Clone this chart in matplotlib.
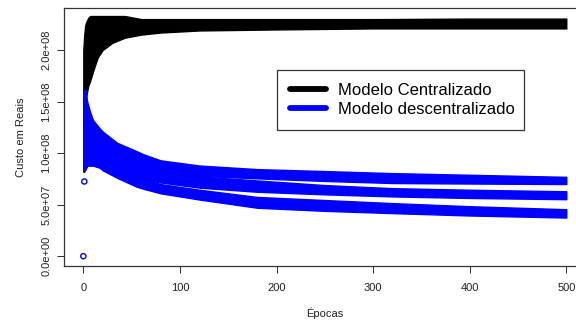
import matplotlib

matplotlib.use("Agg")
import matplotlib.pyplot as plt
from matplotlib.lines import Line2D
from matplotlib.ticker import FuncFormatter

plt.rcParams["font.family"] = ["Liberation Sans", "DejaVu Sans"]

# envelope of the point clouds (cost in reais)
black_epochs = [0, 1, 2, 3, 5, 7, 9, 12, 15, 20, 30, 43, 60, 80, 120, 200, 300, 400, 500]
black_upper = [2.00e8, 2.15e8, 2.24e8, 2.27e8, 2.31e8, 2.33e8, 2.33e8, 2.33e8, 2.33e8,
               2.33e8, 2.33e8, 2.33e8, 2.30e8, 2.30e8, 2.30e8, 2.30e8, 2.30e8, 2.305e8,
               2.305e8]
black_lower = [0.82e8, 0.82e8, 0.85e8, 1.55e8, 1.65e8, 1.70e8, 1.76e8, 1.85e8, 1.93e8,
               2.00e8, 2.07e8, 2.12e8, 2.15e8, 2.17e8, 2.19e8, 2.20e8, 2.21e8, 2.21e8,
               2.21e8]

blue_epochs = [0, 2, 4, 7, 10, 17, 20, 35, 55, 62, 80, 120, 180, 250, 320, 400, 500]
top_upper = [1.60e8, 1.62e8, 1.50e8, 1.40e8, 1.32e8, 1.24e8, 1.21e8, 1.10e8, 1.02e8,
             0.99e8, 0.93e8, 0.88e8, 0.845e8, 0.826e8, 0.806e8, 0.79e8, 0.77e8]
top_lower = [0.90e8, 0.90e8, 0.90e8, 0.90e8, 0.90e8, 0.90e8, 0.90e8, 0.85e8, 0.80e8,
             0.78e8, 0.75e8, 0.78e8, 0.755e8, 0.73e8, 0.71e8, 0.705e8, 0.70e8]
mid_upper = [1.20e8, 1.20e8, 1.20e8, 1.20e8, 1.20e8, 1.10e8, 1.05e8, 0.95e8, 0.90e8,
             0.88e8, 0.82e8, 0.775e8, 0.735e8, 0.69e8, 0.66e8, 0.645e8, 0.63e8]
mid_lower = [0.84e8, 0.84e8, 0.88e8, 0.88e8, 0.88e8, 0.86e8, 0.835e8, 0.77e8, 0.76e8,
             0.745e8, 0.715e8, 0.665e8, 0.625e8, 0.60e8, 0.58e8, 0.565e8, 0.553e8]
low_upper = [1.00e8, 1.00e8, 1.00e8, 1.00e8, 1.00e8, 0.95e8, 0.92e8, 0.85e8, 0.80e8,
             0.75e8, 0.70e8, 0.645e8, 0.575e8, 0.545e8, 0.515e8, 0.485e8, 0.456e8]
low_lower = [0.84e8, 0.84e8, 0.88e8, 0.88e8, 0.88e8, 0.86e8, 0.835e8, 0.76e8, 0.675e8,
             0.655e8, 0.61e8, 0.55e8, 0.47e8, 0.44e8, 0.418e8, 0.395e8, 0.375e8]

outlier_epochs = [0, 1]
outlier_values = [0.0, 0.725e8]

x_ticks = [0, 100, 200, 300, 400, 500]
y_ticks = [0, 5e7, 1e8, 1.5e8, 2e8]
labels = ["Modelo Centralizado", "Modelo descentralizado"]
colors = ["black", "#0000ff"]

fig = plt.figure(figsize=(5.76, 3.24), dpi=100)
ax = fig.add_axes([64 / 576, 58 / 324, 521.6 / 576, 257.7 / 324])

ax.fill_between(black_epochs, black_lower, black_upper, color=colors[0], lw=1.0)
for lower, upper in [(top_lower, top_upper), (mid_lower, mid_upper), (low_lower, low_upper)]:
    ax.fill_between(blue_epochs, lower, upper, color=colors[1], lw=1.0)
ax.scatter(outlier_epochs, outlier_values, s=14, facecolors="none",
           edgecolors=colors[1], linewidths=1.0)

ax.set_xlim(-20, 520)
ax.set_ylim(-9.5e6, 2.405e8)
ax.set_xticks(x_ticks)
ax.set_yticks(y_ticks)
ax.yaxis.set_major_formatter(FuncFormatter(lambda v, _: f"{v:.1e}"))
for lab in ax.get_yticklabels():
    lab.set_rotation(90)
    lab.set_va("center")
ax.tick_params(axis="both", direction="out", length=5, width=0.75,
               labelsize=8, colors="#333333", labelcolor="#222222")
ax.tick_params(axis="x", pad=7)
ax.tick_params(axis="y", pad=4)
for spine in ax.spines.values():
    spine.set_color("#333333")
    spine.set_linewidth(0.9)

ax.set_xlabel("Épocas", fontsize=8, color="#222222", labelpad=11)
ax.set_ylabel("Custo em Reais", fontsize=8, color="#222222", labelpad=11)

handles = [Line2D([], [], color=c, lw=4.2, solid_capstyle="round") for c in colors]
ax.legend(handles, labels, loc="upper left", mode="expand",
          bbox_to_anchor=(277 / 576, 1 - 131 / 324, 247 / 576, 61 / 324),
          bbox_transform=fig.transFigure, fontsize=12, frameon=True, fancybox=False,
          edgecolor="#333333", framealpha=1, borderpad=0.76, labelspacing=0.27,
          handlelength=2.15, handletextpad=0.72, borderaxespad=0)
ax.get_legend().get_frame().set_linewidth(0.9)

fig.savefig("out.png", dpi=100)
